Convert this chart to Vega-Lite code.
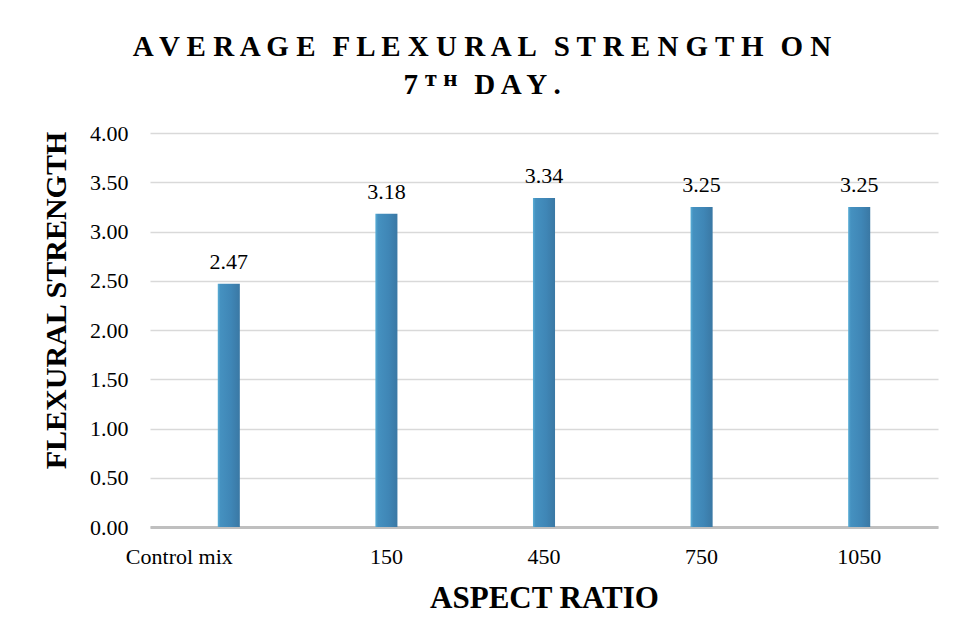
{
  "$schema": "https://vega.github.io/schema/vega-lite/v6.json",
  "autosize": "none",
  "width": 788,
  "height": 394,
  "padding": {"left": 150, "top": 133, "right": 18, "bottom": 116},
  "background": "white",
  "title": {
    "text": ["A V E R A G E\u2002\u200AF L E X U R A L\u2002\u200AS T R E N G T H\u2002\u200AO N", "7 \u1D40 \u1D34\u2002\u200AD A Y ."],
    "font": "Liberation Serif",
    "fontSize": 29,
    "fontWeight": "bold",
    "color": "#000000",
    "anchor": "middle",
    "dx": -62,
    "offset": 22,
    "lineHeight": 38
  },
  "data": {
    "values": [
      {"ratio": "Control mix", "strength": 2.47},
      {"ratio": "150", "strength": 3.18},
      {"ratio": "450", "strength": 3.34},
      {"ratio": "750", "strength": 3.25},
      {"ratio": "1050", "strength": 3.25}
    ]
  },
  "encoding": {
    "x": {
      "field": "ratio",
      "type": "nominal",
      "sort": null,
      "scale": {"paddingInner": 0.86, "paddingOuter": 0.43},
      "axis": {
        "title": "ASPECT RATIO",
        "titleFont": "Liberation Serif",
        "titleFontSize": 31,
        "titleFontWeight": "bold",
        "titleColor": "#000000",
        "titleBaseline": "alphabetic",
        "titleY": 80,
        "labelFont": "Liberation Serif",
        "labelFontSize": 22,
        "labelColor": "#000000",
        "labelAngle": 0,
        "labelBaseline": "alphabetic",
        "labelPadding": 36,
        "labelAlign": {"condition": {"test": "datum.value === 'Control mix'", "value": "right"}, "value": "center"},
        "labelOffset": {"condition": {"test": "datum.value === 'Control mix'", "value": 4}, "value": 0},
        "ticks": false,
        "domainColor": "#bfbfbf",
        "domainWidth": 3
      }
    },
    "y": {
      "field": "strength",
      "type": "quantitative",
      "scale": {"domain": [0, 4]},
      "axis": {
        "title": "FLEXURAL STRENGTH",
        "titleFont": "Liberation Serif",
        "titleFontSize": 30,
        "titleFontWeight": "bold",
        "titleColor": "#000000",
        "titleBaseline": "alphabetic",
        "titleAlign": "center",
        "titleX": -85,
        "titleY": 167,
        "labelFont": "Liberation Serif",
        "labelFontSize": 22,
        "labelColor": "#000000",
        "labelPadding": 22,
        "values": [0, 0.5, 1, 1.5, 2, 2.5, 3, 3.5, 4],
        "format": ".2f",
        "ticks": false,
        "domain": false,
        "gridColor": "#d9d9d9",
        "gridWidth": 1.5
      }
    }
  },
  "layer": [
    {
      "mark": {
        "type": "bar",
        "color": {
          "gradient": "linear",
          "x1": 0, "y1": 0, "x2": 1, "y2": 0,
          "stops": [
            {"offset": 0, "color": "#5aaed6"},
            {"offset": 0.12, "color": "#4591c0"},
            {"offset": 0.6, "color": "#3f86b6"},
            {"offset": 1, "color": "#3a78a4"}
          ]
        }
      }
    },
    {
      "mark": {"type": "text", "baseline": "alphabetic", "dy": -15, "font": "Liberation Serif", "fontSize": 22, "color": "#000000"},
      "encoding": {"text": {"field": "strength", "type": "quantitative", "format": ".2f"}}
    }
  ],
  "config": {"view": {"stroke": null}}
}
